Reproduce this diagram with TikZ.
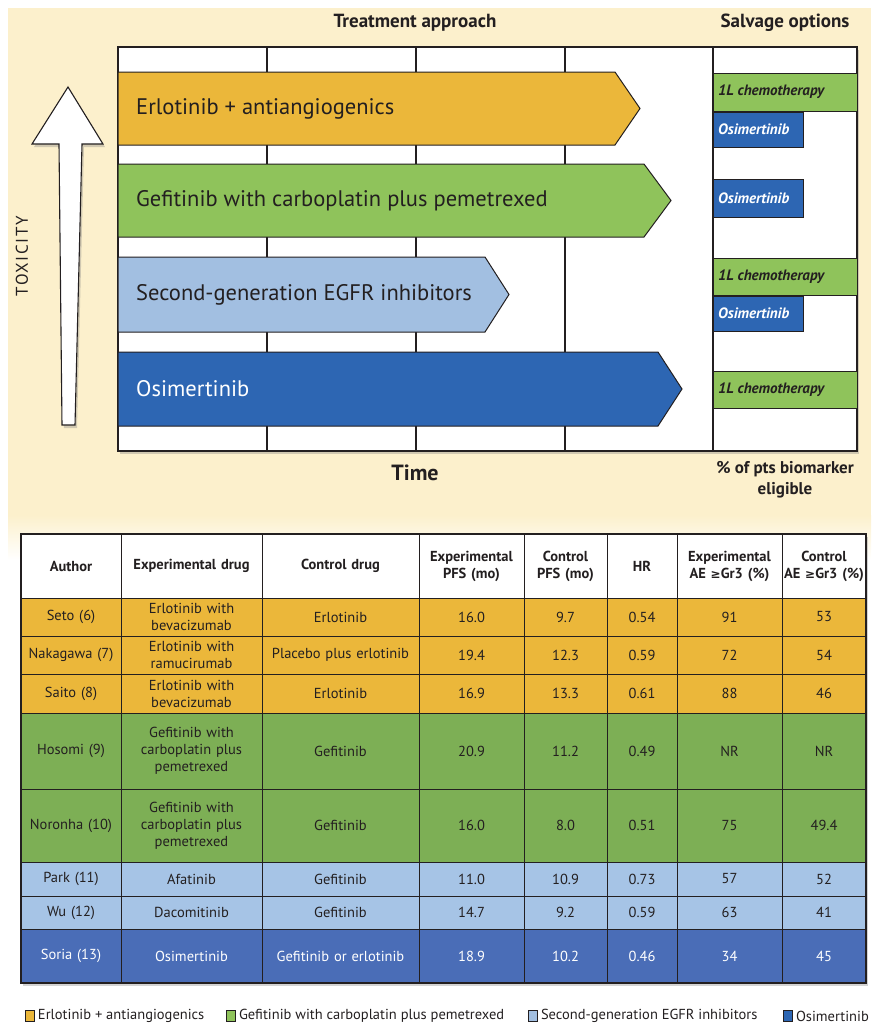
\documentclass[tikz,border=0pt]{standalone}
\usepackage{fontspec}
\setmainfont{PT Sans}
\newfontfamily\symfont{DejaVu Sans}
\usetikzlibrary{shadows}
\definecolor{cream}{HTML}{FCF0CC}
\definecolor{erlo}{HTML}{EBB73A}
\definecolor{gefi}{HTML}{8FC35B}
\definecolor{gefitab}{HTML}{7DAF55}
\definecolor{secgen}{HTML}{A2BFE1}
\definecolor{secgentab}{HTML}{A6C4E6}
\definecolor{osim}{HTML}{2D66B3}
\definecolor{osimtab}{HTML}{4A6DB7}
\definecolor{ink}{HTML}{231F20}

\begin{document}
\begin{tikzpicture}
[x=1pt,y=-1pt,line join=miter,%
  every node/.style={inner sep=0pt,text=ink},%
  boxshadow/.style={drop shadow={opacity=0.35,shadow xshift=2pt,shadow yshift=-3pt}},%
  chartframe/.style={draw=ink,line width=1.3pt,fill=white,boxshadow},%
  trtbar/.style={draw=ink,line width=1pt},%
  barlabel/.style={anchor=west,font=\fontsize{22.5}{26}\selectfont},%
  salvbox/.style={draw=ink,line width=1pt},%
  salvlabel/.style={anchor=west,font=\fontsize{15}{17}\selectfont\bfseries\itshape},%
  tabcell/.style={draw=ink,line width=1pt,align=center,font=\fontsize{14.5}{17}\selectfont},%
  tabhead/.style={font=\fontsize{14.5}{17}\selectfont\bfseries},%
  headtitle/.style={align=center,font=\fontsize{19}{22}\selectfont\bfseries},%
  keybox/.style={draw=ink,line width=0.8pt,minimum width=9pt,minimum height=11pt}]
\useasboundingbox (0,0) rectangle (871,1026);
\fill[cream] (8,8) rectangle (871,515);
\shade[top color=cream,bottom color=white] (8,515) rectangle (871,560);

\node[headtitle] (trt) at (415,23) {Treatment approach};
\node[headtitle] (salv) at (785,23) {Salvage options};
\draw[chartframe] (118,47) rectangle (857,451);
\foreach \gx in {267,416,565,713}
  \draw[ink,line width=1.1pt] (\gx,47) -- (\gx,451);

\foreach \n/\ya/\yb/\xe/\xt/\col/\tcol/\txt in {%
  erlo/72/145/615/640/erlo/ink/{Erlotinib + antiangiogenics},
  gefi/164/237/644/671/gefi/ink/{Gefitinib with carboplatin plus pemetrexed},
  secgen/257/332/485/509/secgen/ink/{Second-generation EGFR inhibitors},
  osim/352/426/658/682/osim/white/Osimertinib}
{
  \draw[trtbar,fill=\col] (118,\ya) -- (\xe,\ya) -- (\xt,{(\ya+\yb)/2})
    -- (\xe,\yb) -- (118,\yb) -- cycle;
  \node[barlabel,text=\tcol] (\n) at (136,{(\ya+\yb)/2}) {\txt};
}

\foreach \n/\ya/\yb/\xr/\col/\tcol/\txt in {%
  sal1/73/111/857/gefi/ink/{1L chemotherapy},
  sal2/112/147/803/osim/white/Osimertinib,
  sal3/179/217/803/osim/white/Osimertinib,
  sal4/258/295/857/gefi/ink/{1L chemotherapy},
  sal5/296/331/803/osim/white/Osimertinib,
  sal6/371/408/857/gefi/ink/{1L chemotherapy}}
{
  \draw[salvbox,fill=\col] (713,\ya) rectangle (\xr,\yb);
  \node[salvlabel,text=\tcol] (\n) at (718,{(\ya+\yb)/2}) {\txt};
}

\draw[ink,line width=1.1pt,fill=white,boxshadow] (68,87) -- (103,144) -- (82,144)
  -- (75,425) -- (62,425) -- (59,144) -- (32,144) -- cycle;
\node[rotate=90,font=\fontsize{17}{20}\selectfont\addfontfeature{LetterSpace=10}] (tox)
  at (22,256) {TOXICITY};
\node[font=\fontsize{22}{26}\selectfont\bfseries] (time) at (415,473) {Time};
\node[align=center,font=\fontsize{17}{21}\selectfont\bfseries] (elig) at (785,480)
  {\% of pts biomarker\\eligible};

\fill[white,boxshadow] (21,534) rectangle (866,983);
\foreach \cc/\xa/\xb/\txt in {%
  1/21/121/Author,
  2/121/262/{Experimental drug},
  3/262/419/{Control drug},
  4/419/524/{Experimental\\PFS (mo)},
  5/524/607/{Control\\PFS (mo)},
  6/607/677/HR,
  7/677/782/{Experimental\\AE {\symfont\fontsize{12}{14}\selectfont ≥}Gr3 (\%)},
  8/782/866/{Control\\AE {\symfont\fontsize{12}{14}\selectfont ≥}Gr3 (\%)}}
{
  \pgfmathsetmacro{\cw}{\xb-\xa-2}
  \node[tabcell,tabhead,fill=white,text width=\cw pt,minimum width=\xb-\xa,
    minimum height=64] (h\cc) at ({(\xa+\xb)/2},566) {\txt};
}

\foreach \r/\ya/\yb/\col/\tcol/\au/\ex/\co/\ep/\cp/\hr/\ea/\ca in {%
  1/598/636/erlo/ink/{Seto (6)}/{Erlotinib with\\bevacizumab}/Erlotinib/16.0/9.7/0.54/91/53,
  2/636/674/erlo/ink/{Nakagawa (7)}/{Erlotinib with\\ramucirumab}/{Placebo plus erlotinib}/19.4/12.3/0.59/72/54,
  3/674/713/erlo/ink/{Saito (8)}/{Erlotinib with\\bevacizumab}/Erlotinib/16.9/13.3/0.61/88/46,
  4/713/789/gefitab/ink/{Hosomi (9)}/{Gefitinib with\\carboplatin plus\\pemetrexed}/Gefitinib/20.9/11.2/0.49/NR/NR,
  5/789/862/gefitab/ink/{Noronha (10)}/{Gefitinib with\\carboplatin plus\\pemetrexed}/Gefitinib/16.0/8.0/0.51/75/49.4,
  6/862/896/secgentab/ink/{Park (11)}/Afatinib/Gefitinib/11.0/10.9/0.73/57/52,
  7/896/929/secgentab/ink/{Wu (12)}/Dacomitinib/Gefitinib/14.7/9.2/0.59/63/41,
  8/929/983/osimtab/white/{Soria (13)}/Osimertinib/{Gefitinib or erlotinib}/18.9/10.2/0.46/34/45}
{
  \foreach \cc/\xa/\xb/\txt in {1/21/121/\au,2/121/262/\ex,3/262/419/\co,4/419/524/\ep,
    5/524/607/\cp,6/607/677/\hr,7/677/782/\ea,8/782/866/\ca}
  {
    \pgfmathsetmacro{\cw}{\xb-\xa-2}
    \node[tabcell,fill=\col,text=\tcol,text width=\cw pt,minimum width=\xb-\xa,
      minimum height=\yb-\ya] (r\r c\cc) at ({(\xa+\xb)/2},{(\ya+\yb)/2}) {\txt};
  }
}
\draw[ink,line width=1.5pt] (21,534) rectangle (866,983);

\foreach \n/\kx/\col/\txt in {%
  k1/25/erlo/{Erlotinib + antiangiogenics},
  k2/226/gefi/{Gefitinib with carboplatin plus pemetrexed},
  k3/528/secgen/{Second-generation EGFR inhibitors},
  k4/783/osim/Osimertinib}
{
  \node[keybox,fill=\col,anchor=west] (\n) at (\kx,1016) {};
  \node[anchor=west,font=\fontsize{14.5}{17}\selectfont] (\n txt) at ([xshift=3pt]\n.east) {\txt};
}
\end{tikzpicture}
\end{document}
